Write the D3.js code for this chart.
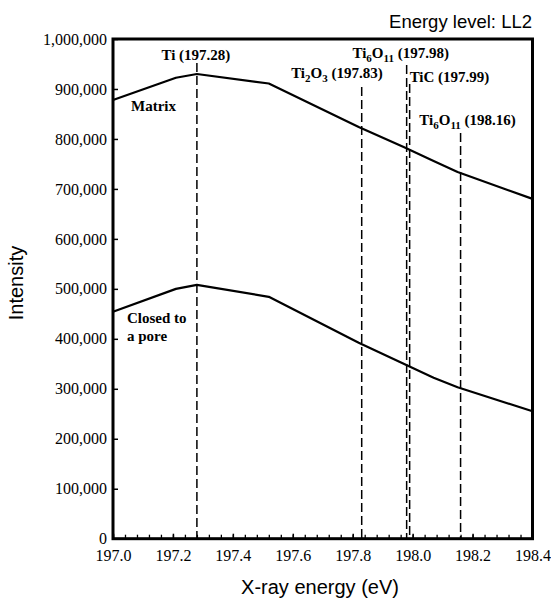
<!DOCTYPE html>
<html>
<head>
<meta charset="utf-8">
<script src="https://cdn.jsdelivr.net/npm/d3@7"></script>
<style>
  body { margin: 0; background: #fff; }
  svg { display: block; }
</style>
</head>
<body>
<div id="chart"></div>
<script>
// values
const energy = [197.0, 197.21, 197.28, 197.52, 197.82, 197.97, 198.07, 198.15, 198.4];
const matrix = [878000, 922500, 930000, 911000, 824000, 784000, 756000, 734000, 680000];
const pore   = [454000, 500000, 508000, 484000, 392000, 350000, 322000, 303000, 255000];

// reference peaks (dashed lines)
const peakEnergy = [197.28, 197.83, 197.98, 197.99, 198.16];
const peakLabel  = [
  [["Ti", 0], [" (197.28)", 0]],
  [["Ti", 0], ["2", 1], ["O", 0], ["3", 1], [" (197.83)", 0]],
  [["Ti", 0], ["6", 1], ["O", 0], ["11", 1], [" (197.98)", 0]],
  [["TiC (197.99)", 0]],
  [["Ti", 0], ["6", 1], ["O", 0], ["11", 1], [" (198.16)", 0]]
];
const xTicks = [197.0, 197.2, 197.4, 197.6, 197.8, 198.0, 198.2, 198.4];
const yTicks = [0, 100000, 200000, 300000, 400000, 500000, 600000, 700000, 800000, 900000, 1000000];

const W = 551, H = 601;
const margin = {top: 39, right: 18.5, bottom: 62.3, left: 113};
const width = W - margin.left - margin.right;
const height = H - margin.top - margin.bottom;

const serif = "'Liberation Serif', 'Times New Roman', serif";
const sans = "'Liberation Sans', Arial, sans-serif";

const svg = d3.select("#chart").append("svg")
    .attr("width", W)
    .attr("height", H);

const g = svg.append("g")
    .attr("transform", "translate(" + margin.left + "," + margin.top + ")");

const x = d3.scaleLinear().domain([197.0, 198.4]).range([0, width]);
const y = d3.scaleLinear().domain([0, 1000000]).range([height, 0]);

// minor x ticks every 0.04
g.append("g")
    .attr("transform", "translate(0," + height + ")")
    .call(d3.axisBottom(x).tickValues(d3.range(0, 36).map(i => 197 + i * 0.04)).tickSize(-4).tickFormat(""))
    .call(a => a.select(".domain").remove())
    .selectAll("line").attr("stroke-width", 1.3);

// x axis
g.append("g")
    .attr("transform", "translate(0," + height + ")")
    .call(d3.axisBottom(x).tickValues(xTicks).tickSize(-5).tickPadding(11).tickFormat(d3.format(".1f")))
    .call(a => a.select(".domain").remove())
    .call(a => a.selectAll("line").attr("stroke-width", 1.5))
    .call(a => a.selectAll("text").attr("font-family", serif).attr("font-size", 16).attr("fill", "#000"));

// y axis
g.append("g")
    .call(d3.axisLeft(y).tickValues(yTicks).tickSize(-5).tickPadding(6).tickFormat(d3.format(",")))
    .call(a => a.select(".domain").remove())
    .call(a => a.selectAll("line").attr("stroke-width", 1.5))
    .call(a => a.selectAll("text").attr("font-family", serif).attr("font-size", 16).attr("fill", "#000"));

// dashed peak lines
const lineTop = [63, 87, 65, 84, 133];
g.selectAll(".peak")
  .data(peakEnergy)
  .enter()
  .append("line")
    .attr("class", "peak")
    .attr("x1", d => x(d))
    .attr("x2", d => x(d))
    .attr("y1", (d, i) => lineTop[i] - margin.top)
    .attr("y2", height)
    .attr("stroke", "#000")
    .attr("stroke-width", 1.5)
    .attr("stroke-dasharray", "9,4");

// series lines
const line = d3.line()
    .x((d, i) => x(energy[i]))
    .y(d => y(d));

[matrix, pore].forEach(s => {
  g.append("path")
    .datum(s)
    .attr("fill", "none")
    .attr("stroke", "#000")
    .attr("stroke-width", 2.2)
    .attr("stroke-linejoin", "round")
    .attr("d", line);
});

// frame
g.append("rect")
    .attr("width", width)
    .attr("height", height)
    .attr("fill", "none")
    .attr("stroke", "#000")
    .attr("stroke-width", 3);

// peak labels: [anchor, dx from line, baseline y]
const labelPos = [
  ["middle", -1, 60],
  ["end", 21, 78],
  ["middle", -6, 58],
  ["start", 0, 82],
  ["middle", 7, 125]
];
peakLabel.forEach((parts, i) => {
  const t = svg.append("text")
    .attr("x", margin.left + x(peakEnergy[i]) + labelPos[i][1])
    .attr("y", labelPos[i][2])
    .attr("text-anchor", labelPos[i][0])
    .attr("font-family", serif)
    .attr("font-weight", "bold")
    .attr("font-size", 15);
  let low = 0;
  parts.forEach(p => {
    const s = t.append("tspan").text(p[0]);
    if (p[1] && !low) { s.attr("dy", 4).attr("font-size", 11); low = 1; }
    else if (p[1]) { s.attr("font-size", 11); }
    else if (low) { s.attr("dy", -4); low = 0; }
  });
});

// series labels
const serLabel = svg.append("g")
    .attr("font-family", serif)
    .attr("font-weight", "bold")
    .attr("font-size", 15);
serLabel.append("text").attr("x", 131).attr("y", 111).text("Matrix");
serLabel.append("text").attr("x", 127).attr("y", 323).text("Closed to");
serLabel.append("text").attr("x", 127).attr("y", 341).text("a pore");

// title and axis titles
svg.append("text")
    .attr("x", 532)
    .attr("y", 28)
    .attr("text-anchor", "end")
    .attr("font-family", sans)
    .attr("font-size", 18.5)
    .text("Energy level: LL2");

svg.append("text")
    .attr("transform", "translate(22.5,283) rotate(-90)")
    .attr("text-anchor", "middle")
    .attr("font-family", sans)
    .attr("font-size", 20)
    .text("Intensity");

svg.append("text")
    .attr("x", 320)
    .attr("y", 594)
    .attr("text-anchor", "middle")
    .attr("font-family", sans)
    .attr("font-size", 20)
    .text("X-ray energy (eV)");
</script>
</body>
</html>
